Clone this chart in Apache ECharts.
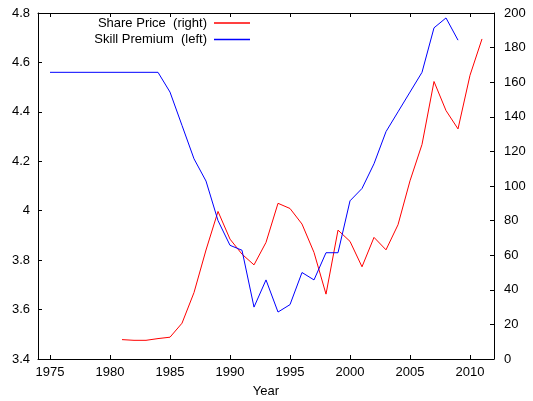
<!DOCTYPE html>
<html>
<head>
<meta charset="utf-8">
<script src="https://cdn.jsdelivr.net/npm/echarts@6/dist/echarts.min.js"></script>
<style>
  html, body { margin: 0; padding: 0; background: #fff; }
  #chart { width: 533px; height: 401px; }
</style>
</head>
<body>
<div id="chart"></div>
<script>
// Skill premium (left axis), 1975-2009
const premiumYears = [1975, 1976, 1977, 1978, 1979, 1980, 1981, 1982, 1983, 1984,
  1985, 1986, 1987, 1988, 1989, 1990, 1991, 1992, 1993, 1994, 1995, 1996, 1997,
  1998, 1999, 2000, 2001, 2002, 2003, 2004, 2005, 2006, 2007, 2008, 2009];
const premiumValues = [4.56, 4.56, 4.56, 4.56, 4.56, 4.56, 4.56, 4.56, 4.56, 4.56,
  4.48, 4.345, 4.21, 4.12, 3.96, 3.86, 3.84, 3.61, 3.72, 3.59, 3.62, 3.75, 3.72,
  3.83, 3.83, 4.04, 4.09, 4.19, 4.32, 4.40, 4.48, 4.56, 4.74, 4.78, 4.69];

// Share price (right axis), 1981-2011
const priceYears = [1981, 1982, 1983, 1984, 1985, 1986, 1987, 1988, 1989, 1990,
  1991, 1992, 1993, 1994, 1995, 1996, 1997, 1998, 1999, 2000, 2001, 2002, 2003,
  2004, 2005, 2006, 2007, 2008, 2009, 2010, 2011];
const priceValues = [11.2, 10.8, 10.8, 11.8, 12.6, 20.7, 38.4, 63, 85.3, 69.3,
  60.6, 54.4, 67.4, 90, 87, 78, 61.6, 37.5, 74.5, 68, 53.3, 70.3, 63.1,
  77.6, 103, 124, 160.4, 143.6, 133, 164, 185];

// Tick labels
const yearTicks = [1975, 1980, 1985, 1990, 1995, 2000, 2005, 2010];

const pair = (xs, ys) => xs.map((x, i) => [x, ys[i]]);

const FONT = "'Liberation Sans', Arial, sans-serif";
const FONT_SIZE = 13;
const axisLine = { show: true, lineStyle: { color: '#000', width: 1 } };
const tickStyle = { show: true, inside: true, length: 4, lineStyle: { color: '#000', width: 1 } };
const labelStyle = { color: '#000', fontSize: FONT_SIZE, fontFamily: FONT };

const chart = echarts.init(document.getElementById('chart'), null, { renderer: 'canvas' });
chart.setOption({
  animation: false,
  backgroundColor: '#fff',
  grid: { left: 38, right: 39, top: 13, bottom: 42, containLabel: false, outerBoundsMode: 'none' },
  legend: {
    orient: 'vertical',
    right: 283,
    top: 16,
    padding: 0,
    align: 'right',
    itemWidth: 36,
    itemHeight: 1.5,
    itemGap: 2.5,
    icon: 'rect',
    textStyle: { color: '#000', fontSize: FONT_SIZE, fontFamily: FONT, lineHeight: 14, padding: [0, 2, 0, 0] },
    data: ['Share Price  (right)', 'Skill Premium  (left)']
  },
  xAxis: [
    {
      type: 'value', position: 'bottom', min: 1974, max: 2012,
      name: 'Year', nameLocation: 'middle', nameGap: 26,
      nameTextStyle: { color: '#000', fontSize: FONT_SIZE, fontFamily: FONT },
      axisLine: axisLine,
      axisTick: Object.assign({}, tickStyle, { customValues: yearTicks }),
      axisLabel: Object.assign({}, labelStyle, {
        margin: 7, customValues: yearTicks, formatter: v => String(v)
      }),
      splitLine: { show: false }
    },
    {
      type: 'value', position: 'top', min: 1974, max: 2012,
      axisLine: axisLine,
      axisTick: Object.assign({}, tickStyle, { customValues: yearTicks }),
      axisLabel: { show: false },
      splitLine: { show: false }
    }
  ],
  yAxis: [
    {
      type: 'value', position: 'left', min: 3.4, max: 4.8, interval: 0.2,
      axisLine: axisLine,
      axisTick: tickStyle,
      axisLabel: Object.assign({}, labelStyle, { margin: 8 }),
      splitLine: { show: false }
    },
    {
      type: 'value', position: 'right', min: 0, max: 200, interval: 20,
      axisLine: axisLine,
      axisTick: tickStyle,
      axisLabel: Object.assign({}, labelStyle, { margin: 10 }),
      splitLine: { show: false }
    }
  ],
  series: [
    {
      name: 'Share Price  (right)', type: 'line', xAxisIndex: 0, yAxisIndex: 1,
      data: pair(priceYears, priceValues),
      symbol: 'none', color: '#ff0000',
      lineStyle: { color: '#ff0000', width: 1 }
    },
    {
      name: 'Skill Premium  (left)', type: 'line', xAxisIndex: 0, yAxisIndex: 0,
      data: pair(premiumYears, premiumValues),
      symbol: 'none', color: '#0000ff',
      lineStyle: { color: '#0000ff', width: 1 }
    }
  ]
});
</script>
</body>
</html>
